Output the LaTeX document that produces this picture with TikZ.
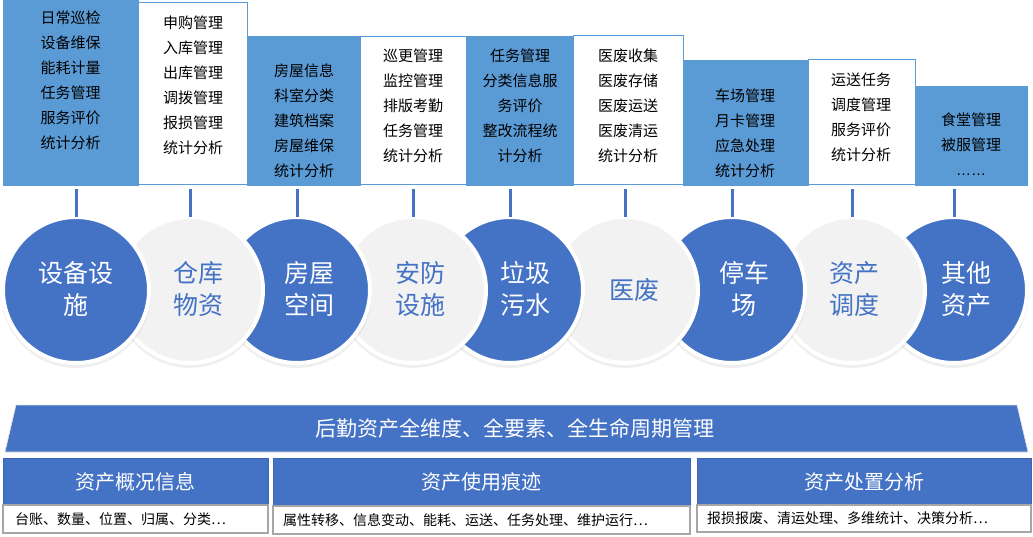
\documentclass[tikz,border=0pt]{standalone}
\usepackage{fontspec}
\setmainfont{Noto Sans CJK SC}
\newfontfamily\latinfont{Liberation Sans}
\usetikzlibrary{calc,shadows}
\definecolor{topblue}{HTML}{5B9BD5}
\definecolor{mainblue}{HTML}{4472C4}
\definecolor{lightg}{HTML}{F2F2F2}
\definecolor{hdrborder}{HTML}{3B64AD}
\definecolor{subborder}{HTML}{A6A6A6}
\begin{document}
\begin{tikzpicture}[x=1pt,y=-1pt,
  every node/.style={inner sep=0pt, outer sep=0pt},
  bluebox/.style={anchor=north west, fill=topblue, draw=topblue, line width=0.8pt},
  whitebox/.style={anchor=north west, fill=white, draw=topblue, line width=1pt},
  boxtext/.style={font=\fontsize{15}{25}\selectfont, align=center, text=black},
  conn/.style={draw=mainblue, line width=3pt, shorten >=4pt},
  bigc/.style={circle, minimum size=146pt, draw=white, line width=4pt,
     drop shadow={opacity=0.13, shadow xshift=0pt, shadow yshift=-3pt, shadow scale=1.025}},
  darkc/.style={bigc, fill=mainblue},
  lightc/.style={bigc, fill=lightg},
  ctext/.style={font=\fontsize{25}{32}\selectfont, align=center},
  hdr/.style={anchor=north west, fill=mainblue, draw=hdrborder, line width=0.8pt},
  sub/.style={anchor=north west, fill=white, draw=subborder, line width=1.2pt},
  hdrtext/.style={font=\fontsize{20}{24}\selectfont, text=white},
  subtext/.style={font=\fontsize{14}{16}\selectfont, text=black, anchor=west}
]
\useasboundingbox (0,0) rectangle (1033,537);

% ---------- top boxes ----------
\node[bluebox,  minimum width=135pt, minimum height=185pt] (b1) at (3,0) {};
\node[whitebox, minimum width=109pt, minimum height=182pt] (b2) at (138,3) {};
\node[bluebox,  minimum width=113pt, minimum height=149pt] (b3) at (247,36) {};
\node[whitebox, minimum width=106pt, minimum height=148pt] (b4) at (360,37) {};
\node[bluebox,  minimum width=107pt, minimum height=149pt] (b5) at (466,36) {};
\node[whitebox, minimum width=110pt, minimum height=149pt] (b6) at (573,36) {};
\node[bluebox,  minimum width=125pt, minimum height=125pt] (b7) at (683,60) {};
\node[whitebox, minimum width=107pt, minimum height=125pt] (b8) at (808,60) {};
\node[bluebox,  minimum width=112pt, minimum height=99pt]  (b9) at (915,86) {};

\node[boxtext] (t1) at (70.5,80.5) {日常巡检\\设备维保\\能耗计量\\任务管理\\服务评价\\统计分析};
\node[boxtext] (t2) at (193,85) {申购管理\\入库管理\\出库管理\\调拨管理\\报损管理\\统计分析};
\node[boxtext] (t3) at (304,120.5) {房屋信息\\科室分类\\建筑档案\\房屋维保\\统计分析};
\node[boxtext] (t4) at (413,106) {巡更管理\\监控管理\\排版考勤\\任务管理\\统计分析};
\node[boxtext] (t5) at (520,106) {任务管理\\分类信息服\\务评价\\整改流程统\\计分析};
\node[boxtext] (t6) at (628,106) {医废收集\\医废存储\\医废运送\\医废清运\\统计分析};
\node[boxtext] (t7) at (745,133) {车场管理\\月卡管理\\应急处理\\统计分析};
\node[boxtext] (t8) at (861,117.5) {运送任务\\调度管理\\服务评价\\统计分析};
\node[boxtext] (t9) at (971,144) {食堂管理\\被服管理\\{\latinfont ……}};

% ---------- circles (drawn right to left so each overlaps the next) ----------
\node[darkc]  (c9) at (954,290) {};
\node[lightc] (c8) at (852,290) {};
\node[darkc]  (c7) at (732,290) {};
\node[lightc] (c6) at (625,290) {};
\node[darkc]  (c5) at (510,290) {};
\node[lightc] (c4) at (413,290) {};
\node[darkc]  (c3) at (297,290) {};
\node[lightc] (c2) at (190,290) {};
\node[darkc]  (c1) at (76,290) {};

\node[ctext, text=white]     (l1) at (76,289)  {设备设\\施};
\node[ctext, text=mainblue]  (l2) at (198,289) {仓库\\物资};
\node[ctext, text=white]     (l3) at (309,289) {房屋\\空间};
\node[ctext, text=mainblue]  (l4) at (420,289) {安防\\设施};
\node[ctext, text=white]     (l5) at (525,289) {垃圾\\污水};
\node[ctext, text=mainblue]  (l6) at (634,290) {医废};
\node[ctext, text=white]     (l7) at (744,289) {停车\\场};
\node[ctext, text=mainblue]  (l8) at (854,289) {资产\\调度};
\node[ctext, text=white]     (l9) at (966,289) {其他\\资产};

% ---------- connectors ----------
\foreach \i in {1,...,9}{
  \draw[conn] (c\i.north) -- (c\i.north |- b\i.south);
}

% ---------- banner ----------
\filldraw[fill=mainblue, draw=black!12, line width=0.6pt]
  (16,405) -- (1017,405) -- (1028,452) -- (5,452) -- cycle;
\node[font=\fontsize{21}{24}\selectfont, text=white] (banner) at (515,428)
  {后勤资产全维度、全要素、全生命周期管理};

% ---------- bottom boxes ----------
\node[hdr, minimum width=265pt, minimum height=47pt] (hA) at (3,458) {};
\node[sub, minimum width=265pt, minimum height=28pt] (sA) at (3,505) {};
\node[hdr, minimum width=417pt, minimum height=48pt] (hB) at (273,458) {};
\node[sub, minimum width=417pt, minimum height=28pt] (sB) at (273,506) {};
\node[hdr, minimum width=334pt, minimum height=47pt] (hC) at (697,458) {};
\node[sub, minimum width=334pt, minimum height=27pt] (sC) at (697,505) {};

\node[hdrtext] (hAt) at (hA) {资产概况信息};
\node[hdrtext] (hBt) at (hB) {资产使用痕迹};
\node[hdrtext] (hCt) at (hC) {资产处置分析};

\node[subtext] (sAt) at (15,519) {台账、数量、位置、归属、分类…};
\node[subtext] (sBt) at (283,520) {属性转移、信息变动、能耗、运送、任务处理、维护运行…};
\node[subtext] (sCt) at (707,518.5) {报损报废、清运处理、多维统计、决策分析…};
\end{tikzpicture}
\end{document}
